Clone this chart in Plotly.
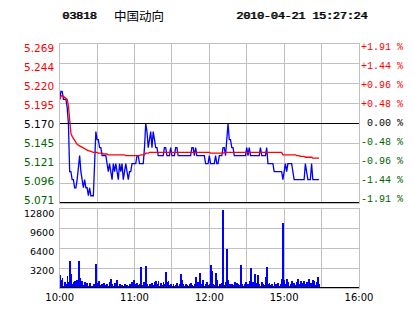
import plotly.graph_objects as go

# ---------------- data ----------------
code = "03818"
name = "中国动向"
stamp = "2010-04-21 15:27:24"
prev_close = 5.170

price = [
    5.20, 5.21, 5.21, 5.20, 5.20, 5.20, 5.19, 5.17, 5.11, 5.11,
    5.10, 5.10, 5.09, 5.09, 5.10, 5.12, 5.13, 5.11, 5.10, 5.09,
    5.10, 5.09, 5.09, 5.08, 5.09, 5.08, 5.08, 5.08, 5.12, 5.16,
    5.15, 5.15, 5.14, 5.14, 5.13, 5.13, 5.13, 5.13, 5.12, 5.11,
    5.12, 5.11, 5.10, 5.12, 5.11, 5.12, 5.11, 5.10, 5.12, 5.11,
    5.12, 5.10, 5.11, 5.12, 5.11, 5.10, 5.11, 5.11, 5.12, 5.12,
    5.12, 5.12, 5.13, 5.13, 5.12, 5.12, 5.12, 5.12, 5.14, 5.17,
    5.16, 5.14, 5.15, 5.16, 5.14, 5.16, 5.15, 5.14, 5.14, 5.13,
    5.13, 5.13, 5.13, 5.13, 5.14, 5.14, 5.13, 5.13, 5.13, 5.14,
    5.13, 5.13, 5.13, 5.14, 5.14, 5.13, 5.13, 5.13, 5.13, 5.13,
    5.13, 5.13, 5.13, 5.13, 5.13, 5.13, 5.14, 5.14, 5.13, 5.14,
    5.13, 5.13, 5.13, 5.13, 5.13, 5.13, 5.13, 5.12, 5.12, 5.12,
    5.13, 5.12, 5.12, 5.12, 5.12, 5.13, 5.12, 5.12, 5.13, 5.13,
    5.13, 5.14, 5.14, 5.13, 5.15, 5.17, 5.15, 5.15, 5.14, 5.14,
    5.13, 5.13, 5.13, 5.13, 5.13, 5.13, 5.13, 5.13, 5.13, 5.13,
    5.14, 5.13, 5.14, 5.13, 5.13, 5.13, 5.13, 5.13, 5.13, 5.13,
    5.13, 5.14, 5.13, 5.13, 5.13, 5.13, 5.14, 5.12, 5.12, 5.12,
    5.12, 5.12, 5.11, 5.11, 5.11, 5.11, 5.11, 5.11, 5.11, 5.10,
    5.11, 5.12, 5.11, 5.12, 5.12, 5.12, 5.12, 5.11, 5.10, 5.10,
    5.10, 5.10, 5.10, 5.10, 5.10, 5.10, 5.10, 5.12, 5.11, 5.10,
    5.10, 5.10, 5.12, 5.10, 5.10, 5.10, 5.10, 5.10, 5.10,
]

avg_price = [
    5.200, 5.204, 5.205, 5.204, 5.203, 5.202, 5.200, 5.192, 5.172, 5.158,
    5.154, 5.151, 5.148, 5.146, 5.144, 5.143, 5.142, 5.141, 5.140, 5.139,
    5.138, 5.137, 5.137, 5.136, 5.136, 5.135, 5.135, 5.134, 5.134, 5.134,
    5.134, 5.133, 5.133, 5.133, 5.133, 5.132, 5.132, 5.132, 5.132, 5.131,
    5.131, 5.131, 5.131, 5.131, 5.131, 5.131, 5.131, 5.131, 5.131, 5.131,
    5.131, 5.131, 5.131, 5.130, 5.130, 5.130, 5.130, 5.130, 5.130, 5.130,
    5.130, 5.130, 5.130, 5.130, 5.130, 5.131, 5.131, 5.131, 5.131, 5.133,
    5.133, 5.133, 5.134, 5.134, 5.134, 5.134, 5.134, 5.134, 5.134, 5.134,
    5.134, 5.134, 5.134, 5.134, 5.134, 5.134, 5.134, 5.134, 5.134, 5.134,
    5.134, 5.134, 5.134, 5.134, 5.134, 5.134, 5.134, 5.134, 5.134, 5.134,
    5.134, 5.134, 5.134, 5.134, 5.134, 5.134, 5.134, 5.134, 5.134, 5.134,
    5.134, 5.134, 5.134, 5.134, 5.134, 5.134, 5.134, 5.134, 5.134, 5.134,
    5.134, 5.133, 5.133, 5.133, 5.133, 5.133, 5.133, 5.133, 5.133, 5.133,
    5.133, 5.133, 5.134, 5.134, 5.134, 5.134, 5.134, 5.134, 5.134, 5.134,
    5.134, 5.134, 5.134, 5.134, 5.134, 5.134, 5.134, 5.134, 5.134, 5.134,
    5.134, 5.134, 5.134, 5.134, 5.134, 5.134, 5.134, 5.134, 5.134, 5.134,
    5.134, 5.134, 5.134, 5.134, 5.134, 5.134, 5.134, 5.134, 5.134, 5.134,
    5.134, 5.134, 5.134, 5.134, 5.134, 5.134, 5.134, 5.134, 5.134, 5.131,
    5.131, 5.131, 5.131, 5.131, 5.131, 5.131, 5.131, 5.131, 5.131, 5.131,
    5.130, 5.130, 5.130, 5.129, 5.129, 5.129, 5.129, 5.128, 5.128, 5.128,
    5.128, 5.128, 5.128, 5.127, 5.127, 5.127, 5.127, 5.127, 5.127,
]

volume = [
    2100, 1300, 1700, 400, 900, 700, 1900, 900, 4400, 2200,
    600, 900, 1100, 500, 1300, 4400, 1600, 1000, 1200, 500,
    900, 400, 800, 300, 800, 400, 300, 700, 600, 3900,
    800, 1200, 500, 400, 700, 800, 300, 500, 600, 400,
    900, 1500, 600, 300, 800, 500, 1300, 400, 700, 300,
    500, 400, 600, 300, 500, 400, 700, 500, 900, 1350,
    600, 400, 800, 500, 700, 3370, 500, 900, 600, 3530,
    700, 400, 600, 300, 800, 500, 900, 1100, 600, 1200,
    400, 800, 500, 1000, 700, 2590, 900, 1200, 500, 700,
    400, 600, 300, 500, 800, 400, 700, 2200, 1350, 600,
    400, 700, 500, 300, 600, 800, 500, 400, 700, 1800,
    600, 900, 2370, 700, 500, 1350, 400, 600, 900, 500,
    700, 3700, 2800, 600, 500, 2490, 1350, 400, 700, 500,
    800, 12700, 500, 900, 6350, 1300, 600, 400, 700, 500,
    900, 400, 800, 600, 500, 3700, 700, 400, 600, 900,
    500, 700, 1100, 3300, 600, 900, 2200, 500, 800, 2040,
    600, 400, 900, 700, 500, 1800, 3370, 600, 800, 500,
    700, 400, 900, 600, 500, 800, 400, 700, 1500, 10500,
    1300, 600, 1500, 900, 400, 700, 1100, 600, 800, 500,
    900, 1500, 600, 1100, 500, 800, 1200, 600, 900, 700,
    1500, 800, 600, 1350, 1200, 500, 900, 1800, 700,
]

price_ticks = ["5.269", "5.244", "5.220", "5.195", "5.170", "5.145", "5.121", "5.096", "5.071"]
pct_ticks = ["+1.91 %", "+1.44 %", "+0.96 %", "+0.48 %", " 0.00 %", "-0.48 %", "-0.96 %", "-1.44 %", "-1.91 %"]
vol_ticks = [12800, 9600, 6400, 3200]
time_ticks = ["10:00", "", "11:00", "", "12:00", "", "15:00", "", "16:00"]
total_minutes = 240
max_dev = 0.099

# ---------------- figure ----------------
W, H = 414, 314
xdom = [49 / W, 370 / W]
pdom = [1 - 203 / H, 1 - 44 / H]
vdom = [1 - 288 / H, 1 - 209 / H]

minutes = list(range(len(price)))
grid = "#c0c0c0"
red, green = "#ff0000", "#006400"
mono = "Liberation Mono, DejaVu Sans Mono, monospace"

fig = go.Figure()
fig.add_trace(go.Bar(x=minutes, y=volume, xaxis="x2", yaxis="y2",
                     marker=dict(color="#0000ff", line=dict(width=0)),
                     width=0.75, hoverinfo="skip"))
fig.add_trace(go.Scatter(x=minutes, y=price, mode="lines",
                         line=dict(color="#0000ff", width=1.3), hoverinfo="skip"))
fig.add_trace(go.Scatter(x=minutes, y=avg_price, mode="lines",
                         line=dict(color="#ff0000", width=1.3), hoverinfo="skip"))

step = max_dev / 4
pvals = [prev_close + max_dev - i * step for i in range(len(price_ticks))]
tvals = [i * total_minutes / (len(time_ticks) - 1) for i in range(len(time_ticks))]

axcommon = dict(showline=True, mirror=True, linecolor=grid, linewidth=1,
                gridcolor=grid, gridwidth=1, zeroline=False, ticks="",
                fixedrange=True)

fig.update_layout(
    width=W, height=H, margin=dict(l=0, r=0, t=0, b=0),
    paper_bgcolor="white", plot_bgcolor="white", showlegend=False,
    bargap=0,
    xaxis=dict(domain=xdom, anchor="y", range=[0, total_minutes],
               tickvals=tvals, showticklabels=False, **axcommon),
    yaxis=dict(domain=pdom, anchor="x", range=[pvals[-1], pvals[0]],
               tickvals=pvals, showticklabels=False, **axcommon),
    xaxis2=dict(domain=xdom, anchor="y2", range=[0, total_minutes],
                tickvals=tvals, ticktext=time_ticks,
                tickfont=dict(family="DejaVu Sans", size=10, color="black"),
                **axcommon),
    yaxis2=dict(domain=vdom, anchor="x2", range=[0, vol_ticks[0]],
                tickvals=[0] + vol_ticks, showticklabels=False, **axcommon),
)

# black reference lines
fig.add_shape(type="line", xref="x", yref="y", x0=0, x1=total_minutes,
              y0=prev_close, y1=prev_close, line=dict(color="black", width=1))
fig.add_shape(type="line", xref="x", yref="y", x0=0, x1=total_minutes,
              y0=pvals[-1], y1=pvals[-1], line=dict(color="black", width=2))
fig.add_shape(type="line", xref="x2", yref="y2", x0=0, x1=total_minutes,
              y0=0, y1=0, line=dict(color="black", width=2))

# price / percent labels (evenly spaced, slightly inset from the panel edges)
for i, (lab, pl) in enumerate(zip(price_ticks, pct_ticks)):
    col = red if i < 4 else ("black" if i == 4 else green)
    ypix = 47.5 + i * 19
    fig.add_annotation(xref="paper", yref="paper", x=45 / W, y=1 - ypix / H, text=lab,
                       showarrow=False, xanchor="right", yanchor="middle",
                       font=dict(family="DejaVu Sans", size=10.5, color=col))
    fig.add_annotation(xref="paper", yref="paper", x=370 / W, y=1 - ypix / H,
                       text=pl.replace(" ", "&nbsp;"),
                       showarrow=False, xanchor="left", yanchor="middle",
                       font=dict(family=mono, size=10, color=col))

for i, v in enumerate(vol_ticks):
    ypix = 213.5 + i * 19
    fig.add_annotation(xref="paper", yref="paper", x=45 / W, y=1 - ypix / H, text=str(v),
                       showarrow=False, xanchor="right", yanchor="middle",
                       font=dict(family="DejaVu Sans", size=9.5, color="black"))

# header (mono text, thickened with a 1px shadow to imitate the bold pixel font)
hdr_y = 1 - 16 / H
hdr_font = dict(family=mono, size=11.5, color="black", shadow="1px 0px 0px #000")
fig.add_annotation(xref="paper", yref="paper", x=49 / W, y=hdr_y, text=code,
                   showarrow=False, xanchor="left", yanchor="middle", font=hdr_font)
fig.add_annotation(xref="paper", yref="paper", x=105 / W, y=hdr_y, text=name,
                   showarrow=False, xanchor="left", yanchor="middle",
                   font=dict(family="Noto Sans CJK SC", size=12.5, color="black"))
fig.add_annotation(xref="paper", yref="paper", x=236 / W, y=hdr_y, text=stamp,
                   showarrow=False, xanchor="left", yanchor="middle", font=hdr_font)

fig.write_html("out.html", config={"displayModeBar": False},
               post_script="document.body.style.margin='0px';")
